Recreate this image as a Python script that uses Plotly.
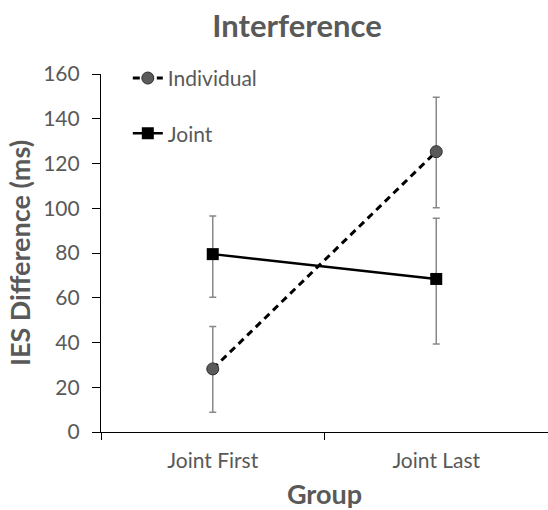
import plotly.graph_objects as go

groups = ["Joint First", "Joint Last"]
individual = [28.2, 125.3]
individual_err_plus = [18.9, 24.3]
individual_err_minus = [19.4, 25.1]
joint = [79.5, 68.4]
joint_err_plus = [17.0, 27.1]
joint_err_minus = [19.3, 29.1]
y_ticks = [0, 20, 40, 60, 80, 100, 120, 140, 160]

GRAY = "#595959"
FONT = "Lato"

fig = go.Figure()
fig.add_trace(go.Scatter(
    x=groups, y=individual, name="Individual", mode="lines+markers",
    line=dict(color="black", width=3, dash="7px,5px"),
    marker=dict(symbol="circle", size=12, color="#5a5a5a", line=dict(color="#2e2e2e", width=1)),
    error_y=dict(type="data", symmetric=False, array=individual_err_plus,
                 arrayminus=individual_err_minus, color="#888888", thickness=1.5, width=3.5),
    legendgroup="a",
))
fig.add_trace(go.Scatter(
    x=groups, y=joint, name="Joint", mode="lines+markers",
    line=dict(color="black", width=2.5),
    marker=dict(symbol="square", size=12, color="black"),
    error_y=dict(type="data", symmetric=False, array=joint_err_plus,
                 arrayminus=joint_err_minus, color="#888888", thickness=1.5, width=3.5),
    legendgroup="b",
))

fig.update_layout(
    width=548, height=510,
    margin=dict(l=101, r=0, t=74, b=78),
    paper_bgcolor="white", plot_bgcolor="white",
    font=dict(family=FONT, color=GRAY, size=21),
    title=dict(text="<b>Interference</b>", x=297 / 548, xanchor="center", y=1 - 26 / 510,
               yanchor="middle", font=dict(size=31, color=GRAY, family=FONT)),
    showlegend=True,
    legend=dict(x=0.06, y=1.045, xanchor="left", yanchor="top", bgcolor="rgba(0,0,0,0)",
                font=dict(size=21, color=GRAY, family=FONT), tracegroupgap=25,
                traceorder="grouped"),
    xaxis=dict(
        type="category", range=[-0.5, 1.5], showline=True, linecolor="black", linewidth=1.2,
        ticks="outside", tickson="boundaries", ticklen=7, tickcolor="black",
        showgrid=False, zeroline=False, ticklabelstandoff=10,
        tickfont=dict(size=21, color=GRAY),
        title=dict(text="<b>Group</b>", font=dict(size=27, color=GRAY), standoff=15),
    ),
    yaxis=dict(
        range=[0, 160], tickvals=y_ticks, showline=True, linecolor="black", linewidth=1.2,
        ticks="outside", ticklen=8, tickcolor="black", showgrid=False, zeroline=False,
        ticklabelstandoff=8,
        tickfont=dict(size=21, color=GRAY),
        title=dict(text="<b>IES Difference (ms)</b>", font=dict(size=27, color=GRAY), standoff=4),
    ),
)

fig.write_html("out.html", config={"displayModeBar": False},
               post_script="document.body.style.margin='0';")
